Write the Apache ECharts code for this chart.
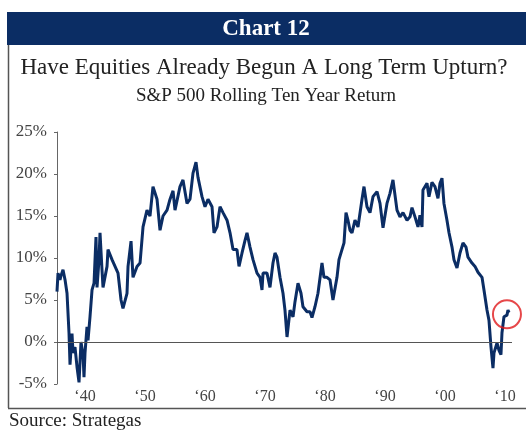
<!DOCTYPE html>
<html>
<head>
<meta charset="utf-8">
<script src="https://cdn.jsdelivr.net/npm/echarts@6/dist/echarts.min.js"></script>
<style>
  body { margin: 0; background: #fff; }
  #chart { width: 526px; height: 430px; }
</style>
</head>
<body>
<div id="chart"></div>
<script>
// rolling ten year return
const years = [
  1935.33, 1935.5, 1935.83, 1936.0, 1936.33, 1936.67, 1937.0, 1937.33, 1937.5, 1937.83,
  1938.0, 1938.33, 1938.67, 1939.0, 1939.33, 1939.67, 1939.83, 1940.0, 1940.33, 1940.5,
  1940.83, 1941.17, 1941.5, 1941.83, 1942.0, 1942.33, 1942.5, 1942.83, 1943.0, 1943.67,
  1943.83, 1944.5, 1945.0, 1945.5, 1946.0, 1946.33, 1947.0, 1947.17, 1947.67, 1948.0,
  1948.67, 1949.17, 1949.67, 1950.33, 1950.83, 1951.33, 1952.0, 1952.5, 1953.0, 1953.67,
  1954.17, 1954.67, 1955.0, 1955.83, 1956.33, 1957.0, 1957.5, 1958.0, 1958.5, 1958.83,
  1959.5, 1960.0, 1960.5, 1961.17, 1961.5, 1962.0, 1962.5, 1963.0, 1963.67, 1964.17,
  1964.67, 1965.33, 1965.67, 1966.17, 1966.67, 1967.0, 1967.5, 1968.0, 1968.67, 1969.17,
  1969.5, 1969.67, 1970.33, 1970.83, 1971.33, 1971.67, 1972.0, 1972.5, 1973.0, 1973.33,
  1973.67, 1974.17, 1974.67, 1975.0, 1975.5, 1976.0, 1976.33, 1977.0, 1977.5, 1977.83,
  1978.33, 1978.83, 1979.5, 1979.83, 1980.33, 1980.83, 1981.33, 1982.0, 1982.33, 1982.83,
  1983.17, 1983.5, 1983.83, 1984.17, 1984.5, 1985.0, 1985.5, 1986.17, 1986.5, 1987.0,
  1987.5, 1988.0, 1988.67, 1989.17, 1989.67, 1990.33, 1990.83, 1991.33, 1992.0, 1992.5,
  1993.0, 1993.67, 1994.17, 1994.5, 1995.0, 1995.5, 1995.83, 1996.17, 1996.33, 1997.0,
  1997.33, 1997.83, 1998.33, 1998.83, 1999.17, 1999.5, 1999.83, 2000.33, 2000.67, 2001.17,
  2001.5, 2002.0, 2002.5, 2003.0, 2003.5, 2003.83, 2004.5, 2005.0, 2005.5, 2006.17,
  2006.5, 2007.0, 2007.33, 2007.67, 2008.0, 2008.17, 2008.67, 2009.0, 2009.33, 2009.5,
  2009.83, 2010.33, 2010.5, 2010.67
];
const returns = [
  6.0, 8.2, 7.4, 7.9, 8.6, 7.4, 5.8, 1.1, -2.7, 1.0,
  -1.3, -0.6, -3.0, -4.8, 0.0, -1.5, -4.2, -1.3, 1.8, 0.2,
  3.0, 6.2, 7.0, 12.5, 6.5, 9.8, 13.0, 8.6, 6.5, 9.0,
  11.0, 9.8, 9.0, 8.2, 5.0, 4.0, 5.8, 9.0, 12.0, 7.7,
  9.0, 9.4, 13.7, 15.7, 15.0, 18.5, 17.0, 13.3, 15.0, 15.7,
  17.0, 18.0, 15.7, 18.5, 19.3, 16.5, 17.0, 20.1, 21.4, 19.6,
  17.3, 16.1, 17.0, 16.1, 13.0, 13.7, 16.1, 15.4, 14.5, 13.0,
  11.0, 11.0, 9.0, 10.6, 12.1, 13.0, 11.3, 9.8, 8.2, 7.7,
  6.2, 8.2, 8.2, 6.5, 9.4, 10.6, 10.1, 7.7, 5.8, 3.8,
  0.6, 3.8, 3.0, 4.8, 7.0, 5.8, 4.2, 3.6, 3.6, 2.9,
  4.2, 5.8, 9.4, 7.7, 7.7, 7.4, 5.0, 7.7, 9.8, 11.0,
  11.8, 15.4, 14.5, 13.3, 13.0, 14.5, 13.7, 17.0, 18.5, 16.1,
  15.4, 17.3, 17.9, 16.5, 13.6, 16.5, 17.7, 19.3, 15.7, 14.9,
  15.4, 14.5, 14.9, 16.0, 14.9, 13.7, 15.1, 13.7, 18.1, 18.9,
  17.3, 19.0, 18.5, 17.1, 18.9, 19.5, 16.5, 14.5, 13.0, 11.3,
  9.8, 8.8, 10.6, 11.8, 11.3, 10.1, 9.4, 9.0, 8.3, 7.7,
  6.2, 3.8, 2.6, -0.6, -3.1, -1.3, -0.1, -1.0, -1.5, 1.1,
  3.0, 3.2, 3.8, 3.5
];
const decadeTicks = [1940, 1950, 1960, 1970, 1980, 1990, 2000, 2010];
const yTicks = [-5, 0, 5, 10, 15, 20, 25];
// the circled latest reading
const highlight = [2010.33, 3.3];

const serif = '"Liberation Serif", "DejaVu Serif", serif';
const navy = '#0b2d64';

let chart = echarts.init(document.getElementById('chart'));

let option = {
  backgroundColor: '#fff',
  animation: false,
  textStyle: { fontFamily: serif },
  grid: { left: 57, right: 14, top: 132, bottom: 46 },
  xAxis: {
    type: 'value',
    min: years[0],
    max: 2011.17,
    axisLine: { show: false },
    axisTick: { show: false },
    splitLine: { show: false },
    axisLabel: {
      customValues: decadeTicks,
      fontFamily: serif,
      fontSize: 16,
      color: '#444',
      margin: 5,
      formatter: function (v) {
        return '\u2018' + String(v).slice(2);
      }
    }
  },
  yAxis: {
    type: 'value',
    min: yTicks[0],
    max: yTicks[yTicks.length - 1],
    interval: 5,
    axisLine: { show: true, lineStyle: { color: '#666', width: 1 } },
    axisTick: { show: true, length: 3, lineStyle: { color: '#666' } },
    splitLine: { show: false },
    axisLabel: {
      fontFamily: serif,
      fontSize: 17,
      color: '#444',
      margin: 10,
      formatter: '{value}%'
    }
  },
  series: [
    {
      type: 'line',
      data: years.map(function (y, i) { return [y, returns[i]]; }),
      showSymbol: false,
      lineStyle: { color: navy, width: 3 },
      markLine: {
        silent: true,
        symbol: 'none',
        label: { show: false },
        lineStyle: { color: '#555', width: 1, type: 'solid' },
        data: [{ yAxis: 0 }]
      }
    },
    {
      type: 'scatter',
      data: [highlight],
      symbol: 'circle',
      symbolSize: 28,
      itemStyle: { color: 'rgba(0,0,0,0)', borderColor: '#e0191b', borderWidth: 2 },
      z: 5
    }
  ],
  graphic: [
    { type: 'rect', shape: { x: 7, y: 12, width: 519, height: 33 }, style: { fill: navy } },
    {
      type: 'text', x: 266, y: 29,
      style: { text: 'Chart 12', fill: '#fff', font: 'bold 23px ' + serif, textAlign: 'center', textVerticalAlign: 'middle' }
    },
    { type: 'line', shape: { x1: 8.5, y1: 45, x2: 8.5, y2: 408 }, style: { stroke: '#555', lineWidth: 1.5 } },
    { type: 'line', shape: { x1: 8, y1: 408.5, x2: 526, y2: 408.5 }, style: { stroke: '#555', lineWidth: 1.5 } },
    {
      type: 'text', x: 264, y: 68,
      style: { text: 'Have Equities Already Begun A Long Term Upturn?', fill: '#222', font: '23px ' + serif, textAlign: 'center', textVerticalAlign: 'middle' }
    },
    {
      type: 'text', x: 266, y: 96,
      style: { text: 'S&P 500 Rolling Ten Year Return', fill: '#222', font: '19px ' + serif, textAlign: 'center', textVerticalAlign: 'middle' }
    },
    {
      type: 'text', x: 9, y: 421,
      style: { text: 'Source: Strategas', fill: '#222', font: '19px ' + serif, textAlign: 'left', textVerticalAlign: 'middle' }
    }
  ]
};

chart.setOption(option);
</script>
</body>
</html>
